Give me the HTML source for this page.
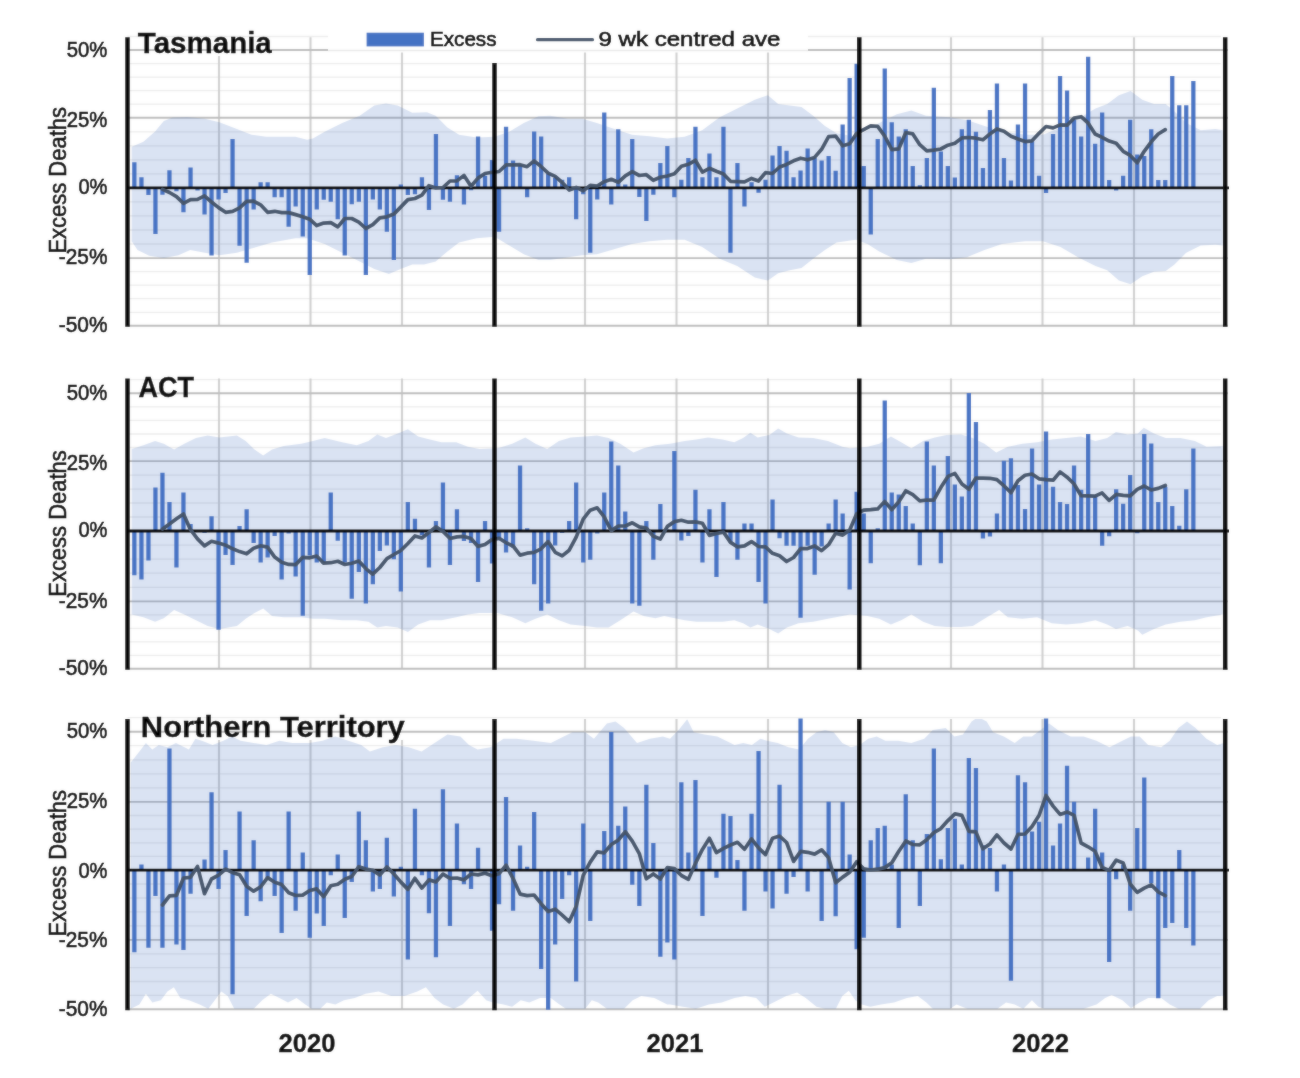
<!DOCTYPE html>
<html lang="en"><head><meta charset="utf-8"><title>Excess deaths by state</title>
<style>html,body{margin:0;padding:0;background:#fff}svg{display:block}</style></head>
<body>
<svg width="1300" height="1078" viewBox="0 0 1300 1078" font-family='"Liberation Sans", sans-serif'>
<rect width="1300" height="1078" fill="#fff"/>
<defs><filter id="soft" x="0" y="0" width="1300" height="1078" filterUnits="userSpaceOnUse"><feGaussianBlur stdDeviation="1"/></filter></defs>
<g id="content">
<rect width="1300" height="1078" fill="#fff"/>
<g id="chart1">
<clipPath id="cp0"><rect x="127.5" y="37.2" width="1097.5" height="288.6"/></clipPath>
<line x1="127.5" x2="1221.0" y1="312.3" y2="312.3" stroke="#ededed" stroke-width="1.3"/>
<line x1="127.5" x2="1221.0" y1="298.7" y2="298.7" stroke="#ededed" stroke-width="1.3"/>
<line x1="127.5" x2="1221.0" y1="285.2" y2="285.2" stroke="#ededed" stroke-width="1.3"/>
<line x1="127.5" x2="1221.0" y1="271.6" y2="271.6" stroke="#ededed" stroke-width="1.3"/>
<line x1="127.5" x2="1221.0" y1="244.0" y2="244.0" stroke="#ededed" stroke-width="1.3"/>
<line x1="127.5" x2="1221.0" y1="230.0" y2="230.0" stroke="#ededed" stroke-width="1.3"/>
<line x1="127.5" x2="1221.0" y1="215.9" y2="215.9" stroke="#ededed" stroke-width="1.3"/>
<line x1="127.5" x2="1221.0" y1="201.9" y2="201.9" stroke="#ededed" stroke-width="1.3"/>
<line x1="127.5" x2="1221.0" y1="173.8" y2="173.8" stroke="#ededed" stroke-width="1.3"/>
<line x1="127.5" x2="1221.0" y1="159.8" y2="159.8" stroke="#ededed" stroke-width="1.3"/>
<line x1="127.5" x2="1221.0" y1="145.8" y2="145.8" stroke="#ededed" stroke-width="1.3"/>
<line x1="127.5" x2="1221.0" y1="131.8" y2="131.8" stroke="#ededed" stroke-width="1.3"/>
<line x1="127.5" x2="1221.0" y1="104.2" y2="104.2" stroke="#ededed" stroke-width="1.3"/>
<line x1="127.5" x2="1221.0" y1="90.7" y2="90.7" stroke="#ededed" stroke-width="1.3"/>
<line x1="127.5" x2="1221.0" y1="77.2" y2="77.2" stroke="#ededed" stroke-width="1.3"/>
<line x1="127.5" x2="1221.0" y1="63.6" y2="63.6" stroke="#ededed" stroke-width="1.3"/>
<line x1="127.5" x2="1221.0" y1="36.5" y2="36.5" stroke="#ededed" stroke-width="1.3"/>
<line x1="219.0" x2="219.0" y1="56.0" y2="325.8" stroke="#d0d0d0" stroke-width="2.1"/>
<line x1="310.5" x2="310.5" y1="37.2" y2="325.8" stroke="#d0d0d0" stroke-width="2.1"/>
<line x1="402.0" x2="402.0" y1="37.2" y2="325.8" stroke="#d0d0d0" stroke-width="2.1"/>
<line x1="585.0" x2="585.0" y1="37.2" y2="325.8" stroke="#d0d0d0" stroke-width="2.1"/>
<line x1="676.5" x2="676.5" y1="37.2" y2="325.8" stroke="#d0d0d0" stroke-width="2.1"/>
<line x1="768.0" x2="768.0" y1="37.2" y2="325.8" stroke="#d0d0d0" stroke-width="2.1"/>
<line x1="951.0" x2="951.0" y1="37.2" y2="325.8" stroke="#d0d0d0" stroke-width="2.1"/>
<line x1="1042.5" x2="1042.5" y1="37.2" y2="325.8" stroke="#d0d0d0" stroke-width="2.1"/>
<line x1="1134.0" x2="1134.0" y1="37.2" y2="325.8" stroke="#d0d0d0" stroke-width="2.1"/>
<line x1="127.5" x2="1228.0" y1="325.8" y2="325.8" stroke="#bdbdbd" stroke-width="1.9"/>
<line x1="127.5" x2="1228.0" y1="258.1" y2="258.1" stroke="#bdbdbd" stroke-width="1.9"/>
<line x1="127.5" x2="1228.0" y1="117.8" y2="117.8" stroke="#bdbdbd" stroke-width="1.9"/>
<line x1="127.5" x2="1228.0" y1="50.0" y2="50.0" stroke="#bdbdbd" stroke-width="1.9"/>
<polygon clip-path="url(#cp0)" fill="#4472c4" fill-opacity="0.2" points="131.7,146.7 143.4,141.7 155.1,131.5 163.8,121.0 172.6,117.5 187.2,116.9 204.8,118.7 219.4,122.2 236.9,128.9 251.5,134.7 266.2,136.8 295.4,136.8 307.1,139.7 312.9,138.5 324.6,131.8 342.2,123.1 359.7,115.8 374.3,105.6 386.0,103.5 397.7,105.6 412.3,112.8 426.9,112.3 435.7,115.8 447.4,127.4 459.1,134.7 476.6,137.6 494.6,136.8 509.2,131.8 523.8,123.1 538.5,116.3 550.2,115.8 567.7,118.7 582.3,118.7 596.9,123.1 611.5,128.0 632.0,134.7 649.5,136.2 667.1,138.5 684.6,136.8 702.2,130.3 719.7,117.2 737.2,108.5 754.8,99.7 767.9,95.3 778.2,104.1 789.9,105.6 801.5,107.0 813.2,115.8 824.9,126.0 836.6,133.3 855.8,136.8 867.5,130.3 879.2,123.1 896.8,114.3 911.4,110.5 926.0,115.8 949.4,117.2 966.9,120.1 984.5,126.0 1002.0,131.8 1025.4,134.7 1042.9,134.7 1060.5,127.4 1078.0,118.7 1095.5,108.5 1107.2,104.1 1118.9,95.3 1130.6,91.0 1142.3,99.7 1154.0,104.1 1165.7,104.1 1174.5,111.4 1186.2,123.1 1200.8,130.3 1215.4,128.9 1222.7,130.3 1222.7,245.6 1215.4,244.7 1200.8,245.6 1186.2,252.8 1174.5,264.5 1165.7,270.9 1154.0,271.8 1142.3,276.2 1130.6,284.3 1118.9,280.6 1107.2,270.3 1095.5,266.0 1078.0,257.2 1060.5,247.0 1042.9,241.2 1025.4,241.2 1002.0,244.1 984.5,249.9 966.9,257.2 949.4,259.3 926.0,258.7 911.4,263.1 896.8,260.1 879.2,251.4 867.5,244.1 855.8,239.7 836.6,242.6 824.9,249.9 813.2,258.7 801.5,268.0 789.9,270.3 778.2,273.3 767.9,280.6 754.8,277.6 737.2,266.0 719.7,258.7 702.2,247.0 684.6,239.7 667.1,239.7 649.5,241.2 632.0,244.1 611.5,249.9 596.9,254.3 582.3,255.2 567.7,257.2 550.2,260.1 538.5,260.1 523.8,254.3 509.2,245.6 494.6,236.8 476.6,238.3 459.1,242.6 447.4,251.4 435.7,261.6 424.0,264.5 412.3,264.5 400.6,268.9 388.9,274.1 374.3,268.9 359.7,261.6 342.2,252.8 324.6,244.1 307.1,238.3 295.4,238.3 272.0,242.6 251.5,248.5 236.9,252.8 219.4,255.2 204.8,252.8 190.2,249.9 178.5,255.2 163.8,258.1 149.2,255.8 137.5,249.9 131.7,241.2"/>
<path fill="#4472c4" d="M132.2 162.3h4.3V187.8h-4.3zM139.3 177.2h4.3V187.8h-4.3zM146.3 187.8h4.3V195.1h-4.3zM153.3 187.8h4.3V234.0h-4.3zM160.3 187.8h4.3V194.8h-4.3zM167.3 170.2h4.3V187.8h-4.3zM174.3 187.8h4.3V191.2h-4.3zM181.3 187.8h4.3V212.2h-4.3zM188.4 167.6h4.3V187.8h-4.3zM195.4 187.8h4.3V190.6h-4.3zM202.4 187.8h4.3V214.4h-4.3zM209.4 187.8h4.3V255.6h-4.3zM216.4 187.8h4.3V199.6h-4.3zM223.4 187.8h4.3V193.1h-4.3zM230.4 139.1h4.3V187.8h-4.3zM237.4 187.8h4.3V245.8h-4.3zM244.5 187.8h4.3V262.8h-4.3zM251.5 187.8h4.3V209.6h-4.3zM258.5 182.2h4.3V187.8h-4.3zM265.5 182.2h4.3V187.8h-4.3zM272.5 187.8h4.3V197.3h-4.3zM279.5 187.8h4.3V197.3h-4.3zM286.5 187.8h4.3V226.7h-4.3zM293.5 187.8h4.3V206.6h-4.3zM300.6 187.8h4.3V236.5h-4.3zM307.6 187.8h4.3V274.9h-4.3zM314.6 187.8h4.3V209.6h-4.3zM321.6 187.8h4.3V199.8h-4.3zM328.6 187.8h4.3V201.8h-4.3zM335.6 187.8h4.3V219.2h-4.3zM342.6 187.8h4.3V255.6h-4.3zM349.6 187.8h4.3V204.3h-4.3zM356.7 187.8h4.3V201.8h-4.3zM363.7 187.8h4.3V274.9h-4.3zM370.7 187.8h4.3V199.6h-4.3zM377.7 187.8h4.3V209.6h-4.3zM384.7 187.8h4.3V231.8h-4.3zM391.7 187.8h4.3V260.0h-4.3zM398.7 184.4h4.3V187.8h-4.3zM405.7 187.8h4.3V195.1h-4.3zM412.8 187.8h4.3V194.2h-4.3zM419.8 177.2h4.3V187.8h-4.3zM426.8 187.8h4.3V209.9h-4.3zM433.8 134.0h4.3V187.8h-4.3zM440.8 187.8h4.3V199.8h-4.3zM447.8 187.8h4.3V201.8h-4.3zM454.8 175.2h4.3V187.8h-4.3zM461.8 187.8h4.3V204.6h-4.3zM468.9 187.8h4.3V190.3h-4.3zM475.9 136.6h4.3V187.8h-4.3zM482.9 175.8h4.3V187.8h-4.3zM489.9 160.1h4.3V187.8h-4.3zM496.9 187.8h4.3V231.8h-4.3zM503.9 126.8h4.3V187.8h-4.3zM510.9 160.4h4.3V187.8h-4.3zM517.9 164.3h4.3V187.8h-4.3zM525.0 187.8h4.3V197.3h-4.3zM532.0 131.5h4.3V187.8h-4.3zM539.0 136.6h4.3V187.8h-4.3zM546.0 174.1h4.3V187.8h-4.3zM553.0 177.7h4.3V187.8h-4.3zM560.0 179.7h4.3V187.8h-4.3zM567.0 177.2h4.3V187.8h-4.3zM574.0 187.8h4.3V219.2h-4.3zM581.1 187.8h4.3V194.2h-4.3zM588.1 187.8h4.3V252.8h-4.3zM595.1 187.8h4.3V199.6h-4.3zM602.1 112.5h4.3V187.8h-4.3zM609.1 187.8h4.3V204.6h-4.3zM616.1 129.3h4.3V187.8h-4.3zM623.1 184.4h4.3V187.8h-4.3zM630.1 139.1h4.3V187.8h-4.3zM637.2 187.8h4.3V197.0h-4.3zM644.2 187.8h4.3V221.1h-4.3zM651.2 187.8h4.3V194.8h-4.3zM658.2 162.9h4.3V187.8h-4.3zM665.2 146.1h4.3V187.8h-4.3zM672.2 187.8h4.3V197.3h-4.3zM679.2 179.7h4.3V187.8h-4.3zM686.2 158.1h4.3V187.8h-4.3zM693.3 126.8h4.3V187.8h-4.3zM700.3 177.2h4.3V187.8h-4.3zM707.3 153.4h4.3V187.8h-4.3zM714.3 177.2h4.3V187.8h-4.3zM721.3 126.8h4.3V187.8h-4.3zM728.3 187.8h4.3V252.8h-4.3zM735.3 162.9h4.3V187.8h-4.3zM742.3 187.8h4.3V206.6h-4.3zM749.4 182.2h4.3V187.8h-4.3zM756.4 187.8h4.3V192.8h-4.3zM763.4 179.7h4.3V187.8h-4.3zM770.4 155.6h4.3V187.8h-4.3zM777.4 146.1h4.3V187.8h-4.3zM784.4 150.8h4.3V187.8h-4.3zM791.4 177.2h4.3V187.8h-4.3zM798.4 170.4h4.3V187.8h-4.3zM805.5 148.6h4.3V187.8h-4.3zM812.5 158.1h4.3V187.8h-4.3zM819.5 160.6h4.3V187.8h-4.3zM826.5 155.9h4.3V187.8h-4.3zM833.5 170.7h4.3V187.8h-4.3zM840.5 124.5h4.3V187.8h-4.3zM847.5 78.0h4.3V187.8h-4.3zM854.5 63.8h4.3V187.8h-4.3zM861.6 166.0h4.3V187.8h-4.3zM868.6 187.8h4.3V234.6h-4.3zM875.6 139.1h4.3V187.8h-4.3zM882.6 68.5h4.3V187.8h-4.3zM889.6 122.3h4.3V187.8h-4.3zM896.6 136.6h4.3V187.8h-4.3zM903.6 129.3h4.3V187.8h-4.3zM910.6 166.0h4.3V187.8h-4.3zM917.7 185.3h4.3V187.8h-4.3zM924.7 158.1h4.3V187.8h-4.3zM931.7 87.8h4.3V187.8h-4.3zM938.7 151.4h4.3V187.8h-4.3zM945.7 166.0h4.3V187.8h-4.3zM952.7 177.4h4.3V187.8h-4.3zM959.7 129.3h4.3V187.8h-4.3zM966.7 119.8h4.3V187.8h-4.3zM973.8 131.8h4.3V187.8h-4.3zM980.8 167.9h4.3V187.8h-4.3zM987.8 110.0h4.3V187.8h-4.3zM994.8 83.6h4.3V187.8h-4.3zM1001.8 158.1h4.3V187.8h-4.3zM1008.8 180.5h4.3V187.8h-4.3zM1015.8 124.5h4.3V187.8h-4.3zM1022.9 83.6h4.3V187.8h-4.3zM1029.9 141.3h4.3V187.8h-4.3zM1036.9 175.8h4.3V187.8h-4.3zM1043.9 187.8h4.3V193.1h-4.3zM1050.9 134.0h4.3V187.8h-4.3zM1057.9 76.1h4.3V187.8h-4.3zM1064.9 90.6h4.3V187.8h-4.3zM1071.9 119.8h4.3V187.8h-4.3zM1079.0 136.6h4.3V187.8h-4.3zM1086.0 56.8h4.3V187.8h-4.3zM1093.0 143.8h4.3V187.8h-4.3zM1100.0 112.5h4.3V187.8h-4.3zM1107.0 180.0h4.3V187.8h-4.3zM1114.0 187.8h4.3V190.6h-4.3zM1121.0 175.8h4.3V187.8h-4.3zM1128.0 119.8h4.3V187.8h-4.3zM1135.1 154.5h4.3V187.8h-4.3zM1142.1 155.9h4.3V187.8h-4.3zM1149.1 129.3h4.3V187.8h-4.3zM1156.1 180.0h4.3V187.8h-4.3zM1163.1 180.0h4.3V187.8h-4.3zM1170.1 76.1h4.3V187.8h-4.3zM1177.1 105.2h4.3V187.8h-4.3zM1184.1 105.2h4.3V187.8h-4.3zM1191.2 81.1h4.3V187.8h-4.3z"/>
<line x1="127.5" x2="1229.0" y1="187.8" y2="187.8" stroke="#000" stroke-width="2.8"/>
<polyline fill="none" stroke="#44546a" stroke-width="3.7" stroke-linejoin="round" stroke-linecap="round" points="162.5,189.4 169.5,192.5 176.5,196.7 183.5,203.4 190.5,199.6 197.5,199.4 204.5,195.9 211.5,202.0 218.6,207.6 225.6,212.3 232.6,211.4 239.6,207.8 246.6,201.3 253.6,201.1 260.6,204.8 267.6,212.3 274.7,211.3 281.7,212.6 288.7,212.6 295.7,214.6 302.7,216.7 309.7,219.2 316.7,225.6 323.7,223.1 330.8,222.6 337.8,226.9 344.8,218.5 351.8,218.5 358.8,222.1 365.8,228.5 372.8,224.7 379.8,217.9 386.9,216.8 393.9,214.1 400.9,206.9 407.9,199.6 414.9,198.5 421.9,195.2 428.9,185.7 435.9,188.0 443.0,187.5 450.0,181.0 457.0,180.9 464.0,175.4 471.0,186.2 478.0,178.1 485.0,173.5 492.0,172.3 499.1,171.5 506.1,164.9 513.1,164.9 520.1,164.7 527.1,166.7 534.1,160.9 541.1,166.5 548.1,173.1 555.2,176.4 562.2,182.5 569.2,190.1 576.2,187.4 583.2,190.8 590.2,185.4 597.2,186.0 604.2,181.7 611.3,179.3 618.3,182.3 625.3,175.8 632.3,171.7 639.3,175.5 646.3,174.7 653.3,180.3 660.3,177.3 667.4,176.0 674.4,173.8 681.4,166.2 688.4,164.3 695.4,160.3 702.4,172.1 709.4,168.3 716.4,171.3 723.5,174.0 730.5,181.3 737.5,181.6 744.5,181.8 751.5,178.4 758.5,181.0 765.5,172.6 772.5,173.5 779.6,167.0 786.6,164.4 793.6,160.8 800.6,158.2 807.6,159.8 814.6,157.4 821.6,149.3 828.6,136.7 835.7,136.2 842.7,145.8 849.7,143.7 856.7,133.4 863.7,129.7 870.7,125.9 877.7,126.4 884.7,136.2 891.8,149.7 898.8,148.8 905.8,132.5 912.8,133.9 919.8,144.7 926.8,150.9 933.8,150.1 940.8,149.0 947.9,145.2 954.9,143.3 961.9,137.9 968.9,137.5 975.9,138.2 982.9,139.8 989.9,133.9 996.9,128.9 1004.0,131.3 1011.0,136.2 1018.0,139.0 1025.0,141.6 1032.0,140.8 1039.0,133.3 1046.0,126.5 1053.1,127.9 1060.1,124.9 1067.1,125.2 1074.1,118.1 1081.1,116.7 1088.1,123.0 1095.1,134.0 1102.1,137.3 1109.2,141.1 1116.2,143.3 1123.2,151.3 1130.2,155.4 1137.2,162.8 1144.2,151.3 1151.2,141.8 1158.2,134.0 1165.3,129.7"/>
<rect x="328" y="20" width="480" height="32.5" fill="#fff"/>
<line x1="328" x2="808" y1="50.4" y2="50.4" stroke="#e9e9e9" stroke-width="1.5"/>
<rect x="366.6" y="32.7" width="57.3" height="13.7" fill="#4472c4"/>
<text x="430" y="46.3" font-size="21" stroke="#000" stroke-width="0.6" textLength="66.5" lengthAdjust="spacingAndGlyphs">Excess</text>
<line x1="537.5" x2="592.5" y1="39.7" y2="39.7" stroke="#44546a" stroke-width="3.2" stroke-linecap="round"/>
<text x="598.5" y="46.3" font-size="21" stroke="#000" stroke-width="0.6" textLength="182" lengthAdjust="spacingAndGlyphs">9 wk centred ave</text>
<line x1="127.5" x2="127.5" y1="37.2" y2="326.8" stroke="#000" stroke-width="4.5"/>
<line x1="494.5" x2="494.5" y1="63.0" y2="326.8" stroke="#000" stroke-width="4.5"/>
<line x1="859.3" x2="859.3" y1="37.2" y2="326.8" stroke="#000" stroke-width="4.5"/>
<line x1="1225.2" x2="1225.2" y1="37.2" y2="326.8" stroke="#000" stroke-width="4.5"/>
<text x="66.8" y="56.6" font-size="22" stroke="#000" stroke-width="0.6" textLength="40.6" lengthAdjust="spacingAndGlyphs">50%</text>
<text x="66.8" y="126.7" font-size="22" stroke="#000" stroke-width="0.6" textLength="40.6" lengthAdjust="spacingAndGlyphs">25%</text>
<text x="78.4" y="193.9" font-size="22" stroke="#000" stroke-width="0.6" textLength="29.0" lengthAdjust="spacingAndGlyphs">0%</text>
<text x="58.8" y="264.3" font-size="22" stroke="#000" stroke-width="0.6" textLength="48.6" lengthAdjust="spacingAndGlyphs">-25%</text>
<text x="58.8" y="332.1" font-size="22" stroke="#000" stroke-width="0.6" textLength="48.6" lengthAdjust="spacingAndGlyphs">-50%</text>
<text transform="translate(66.0 180.3) rotate(-90)" font-size="23" stroke="#000" stroke-width="0.6" text-anchor="middle" textLength="146.5" lengthAdjust="spacingAndGlyphs">Excess Deaths</text>
<text x="137.8" y="53.3" font-size="29" font-weight="bold" stroke="#000" stroke-width="0.35" textLength="134" lengthAdjust="spacingAndGlyphs">Tasmania</text>
</g>
<g id="chart2">
<clipPath id="cp1"><rect x="127.5" y="378.4" width="1097.5" height="290.4"/></clipPath>
<line x1="127.5" x2="1221.0" y1="655.3" y2="655.3" stroke="#ededed" stroke-width="1.3"/>
<line x1="127.5" x2="1221.0" y1="641.8" y2="641.8" stroke="#ededed" stroke-width="1.3"/>
<line x1="127.5" x2="1221.0" y1="628.4" y2="628.4" stroke="#ededed" stroke-width="1.3"/>
<line x1="127.5" x2="1221.0" y1="614.9" y2="614.9" stroke="#ededed" stroke-width="1.3"/>
<line x1="127.5" x2="1221.0" y1="587.3" y2="587.3" stroke="#ededed" stroke-width="1.3"/>
<line x1="127.5" x2="1221.0" y1="573.2" y2="573.2" stroke="#ededed" stroke-width="1.3"/>
<line x1="127.5" x2="1221.0" y1="559.2" y2="559.2" stroke="#ededed" stroke-width="1.3"/>
<line x1="127.5" x2="1221.0" y1="545.1" y2="545.1" stroke="#ededed" stroke-width="1.3"/>
<line x1="127.5" x2="1221.0" y1="517.0" y2="517.0" stroke="#ededed" stroke-width="1.3"/>
<line x1="127.5" x2="1221.0" y1="503.0" y2="503.0" stroke="#ededed" stroke-width="1.3"/>
<line x1="127.5" x2="1221.0" y1="489.1" y2="489.1" stroke="#ededed" stroke-width="1.3"/>
<line x1="127.5" x2="1221.0" y1="475.1" y2="475.1" stroke="#ededed" stroke-width="1.3"/>
<line x1="127.5" x2="1221.0" y1="447.5" y2="447.5" stroke="#ededed" stroke-width="1.3"/>
<line x1="127.5" x2="1221.0" y1="434.0" y2="434.0" stroke="#ededed" stroke-width="1.3"/>
<line x1="127.5" x2="1221.0" y1="420.4" y2="420.4" stroke="#ededed" stroke-width="1.3"/>
<line x1="127.5" x2="1221.0" y1="406.9" y2="406.9" stroke="#ededed" stroke-width="1.3"/>
<line x1="127.5" x2="1221.0" y1="379.7" y2="379.7" stroke="#ededed" stroke-width="1.3"/>
<line x1="219.0" x2="219.0" y1="378.4" y2="668.8" stroke="#d0d0d0" stroke-width="2.1"/>
<line x1="310.5" x2="310.5" y1="378.4" y2="668.8" stroke="#d0d0d0" stroke-width="2.1"/>
<line x1="402.0" x2="402.0" y1="378.4" y2="668.8" stroke="#d0d0d0" stroke-width="2.1"/>
<line x1="585.0" x2="585.0" y1="378.4" y2="668.8" stroke="#d0d0d0" stroke-width="2.1"/>
<line x1="676.5" x2="676.5" y1="378.4" y2="668.8" stroke="#d0d0d0" stroke-width="2.1"/>
<line x1="768.0" x2="768.0" y1="378.4" y2="668.8" stroke="#d0d0d0" stroke-width="2.1"/>
<line x1="951.0" x2="951.0" y1="378.4" y2="668.8" stroke="#d0d0d0" stroke-width="2.1"/>
<line x1="1042.5" x2="1042.5" y1="378.4" y2="668.8" stroke="#d0d0d0" stroke-width="2.1"/>
<line x1="1134.0" x2="1134.0" y1="378.4" y2="668.8" stroke="#d0d0d0" stroke-width="2.1"/>
<line x1="127.5" x2="1228.0" y1="668.8" y2="668.8" stroke="#bdbdbd" stroke-width="1.9"/>
<line x1="127.5" x2="1228.0" y1="601.4" y2="601.4" stroke="#bdbdbd" stroke-width="1.9"/>
<line x1="127.5" x2="1228.0" y1="461.1" y2="461.1" stroke="#bdbdbd" stroke-width="1.9"/>
<line x1="127.5" x2="1228.0" y1="393.3" y2="393.3" stroke="#bdbdbd" stroke-width="1.9"/>
<polygon clip-path="url(#cp1)" fill="#4472c4" fill-opacity="0.2" points="131.7,449.0 143.4,445.2 155.1,440.9 163.8,443.8 174.1,449.6 184.3,443.8 196.0,438.0 207.7,435.6 219.4,437.4 236.9,435.6 245.7,440.9 254.5,449.6 263.2,455.5 272.0,449.6 283.7,446.1 301.2,443.8 312.9,440.9 324.6,438.0 342.2,442.3 356.8,445.2 368.5,440.9 377.2,434.5 386.0,438.0 397.7,433.6 407.9,429.2 418.2,436.5 429.9,439.4 441.5,442.3 456.2,442.3 467.9,446.7 479.5,449.0 497.5,448.2 512.2,443.8 525.3,437.4 535.5,443.8 547.2,449.0 558.9,440.9 570.6,437.4 585.2,436.5 596.9,435.6 608.6,438.0 620.3,443.8 633.5,452.5 643.7,448.2 655.4,445.2 670.0,443.8 684.6,440.9 696.3,439.4 708.0,437.4 722.6,439.4 734.3,442.3 743.1,438.0 750.4,432.7 757.7,437.4 769.4,435.0 778.2,428.6 786.9,433.6 798.6,437.4 813.2,438.0 827.9,440.9 842.5,446.7 850.0,448.2 867.5,446.7 879.2,443.8 890.9,436.5 901.2,442.3 911.4,448.2 923.1,440.9 934.8,437.4 946.5,435.0 961.1,434.5 972.8,438.0 984.5,443.8 996.2,452.5 1007.8,446.7 1022.5,443.8 1037.1,442.3 1051.7,439.4 1066.3,438.0 1080.9,436.5 1095.5,440.9 1107.2,438.0 1116.0,432.1 1127.7,434.5 1137.9,433.6 1143.8,427.8 1154.0,433.6 1165.7,438.0 1180.3,438.0 1194.9,440.9 1206.6,446.7 1222.7,446.1 1222.7,614.4 1206.6,617.3 1194.9,620.2 1180.3,621.7 1165.7,624.6 1154.0,629.0 1142.3,634.8 1137.9,630.5 1127.7,626.1 1116.0,629.0 1107.2,624.6 1095.5,620.2 1080.9,623.2 1066.3,624.6 1051.7,623.2 1037.1,617.3 1022.5,618.8 1007.8,617.3 999.1,610.0 984.5,618.8 972.8,626.1 961.1,627.0 946.5,627.0 934.8,626.1 923.1,621.7 911.4,614.4 901.2,620.2 890.9,624.6 879.2,618.8 867.5,615.9 850.0,614.4 842.5,615.9 827.9,618.8 813.2,621.7 798.6,623.2 786.9,627.5 778.2,633.4 769.4,629.0 757.7,624.6 750.4,627.5 743.1,623.2 734.3,620.2 722.6,621.7 708.0,621.7 696.3,621.7 684.6,620.2 670.0,617.3 664.2,615.9 655.4,618.2 643.7,615.9 633.5,611.5 620.3,620.2 608.6,627.5 596.9,627.5 585.2,626.1 570.6,624.6 558.9,620.2 547.2,614.4 535.5,618.8 525.3,623.2 512.2,617.3 497.5,613.0 479.5,613.0 467.9,614.4 456.2,617.3 441.5,620.2 429.9,620.2 418.2,624.6 407.9,631.9 397.7,627.5 386.0,626.1 377.2,627.5 368.5,621.7 356.8,620.2 342.2,620.2 324.6,618.8 312.9,618.8 301.2,617.3 283.7,617.3 272.0,615.9 263.2,608.6 254.5,613.0 245.7,618.8 236.9,626.1 219.4,629.0 207.7,626.1 196.0,620.2 184.3,614.4 174.1,610.0 163.8,618.2 155.1,621.7 143.4,617.3 131.7,614.4"/>
<path fill="#4472c4" d="M132.2 531.0h4.3V575.2h-4.3zM139.3 531.0h4.3V579.4h-4.3zM146.3 531.0h4.3V560.4h-4.3zM153.3 487.6h4.3V531.0h-4.3zM160.3 472.8h4.3V531.0h-4.3zM167.3 501.9h4.3V531.0h-4.3zM174.3 531.0h4.3V567.4h-4.3zM181.3 492.4h4.3V531.0h-4.3zM188.4 524.0h4.3V531.0h-4.3zM195.4 530.2h4.3V531.0h-4.3zM202.4 531.0h4.3V533.0h-4.3zM209.4 516.2h4.3V531.0h-4.3zM216.4 531.0h4.3V629.8h-4.3zM223.4 531.0h4.3V555.1h-4.3zM230.4 531.0h4.3V564.9h-4.3zM237.4 526.0h4.3V531.0h-4.3zM244.5 509.2h4.3V531.0h-4.3zM251.5 531.0h4.3V543.0h-4.3zM258.5 531.0h4.3V562.4h-4.3zM265.5 531.0h4.3V557.6h-4.3zM272.5 531.0h4.3V536.0h-4.3zM279.5 531.0h4.3V579.4h-4.3zM286.5 531.0h4.3V533.5h-4.3zM293.5 531.0h4.3V576.6h-4.3zM300.6 531.0h4.3V615.8h-4.3zM307.6 531.0h4.3V555.6h-4.3zM314.6 531.0h4.3V562.4h-4.3zM321.6 531.0h4.3V564.0h-4.3zM328.6 492.4h4.3V531.0h-4.3zM335.6 531.0h4.3V540.8h-4.3zM342.6 531.0h4.3V562.4h-4.3zM349.6 531.0h4.3V598.8h-4.3zM356.7 531.0h4.3V571.9h-4.3zM363.7 531.0h4.3V603.5h-4.3zM370.7 531.0h4.3V584.2h-4.3zM377.7 531.0h4.3V550.9h-4.3zM384.7 531.0h4.3V545.6h-4.3zM391.7 531.0h4.3V559.3h-4.3zM398.7 531.0h4.3V591.5h-4.3zM405.7 501.9h4.3V531.0h-4.3zM412.8 518.7h4.3V531.0h-4.3zM419.8 531.0h4.3V535.2h-4.3zM426.8 531.0h4.3V567.4h-4.3zM433.8 520.9h4.3V531.0h-4.3zM440.8 482.6h4.3V531.0h-4.3zM447.8 531.0h4.3V564.9h-4.3zM454.8 509.2h4.3V531.0h-4.3zM461.8 531.0h4.3V541.1h-4.3zM468.9 531.0h4.3V543.0h-4.3zM475.9 531.0h4.3V582.0h-4.3zM482.9 520.9h4.3V531.0h-4.3zM489.9 531.0h4.3V563.5h-4.3zM496.9 531.0h4.3V540.2h-4.3zM503.9 531.0h4.3V552.6h-4.3zM510.9 531.0h4.3V547.8h-4.3zM517.9 465.5h4.3V531.0h-4.3zM525.0 528.2h4.3V531.0h-4.3zM532.0 531.0h4.3V584.2h-4.3zM539.0 531.0h4.3V610.8h-4.3zM546.0 531.0h4.3V603.5h-4.3zM553.0 531.0h4.3V545.6h-4.3zM560.0 531.0h4.3V533.0h-4.3zM567.0 520.9h4.3V531.0h-4.3zM574.0 482.6h4.3V531.0h-4.3zM581.1 531.0h4.3V562.4h-4.3zM588.1 531.0h4.3V559.8h-4.3zM595.1 531.0h4.3V533.5h-4.3zM602.1 492.4h4.3V531.0h-4.3zM609.1 441.4h4.3V531.0h-4.3zM616.1 465.5h4.3V531.0h-4.3zM623.1 511.4h4.3V531.0h-4.3zM630.1 531.0h4.3V603.5h-4.3zM637.2 531.0h4.3V605.8h-4.3zM644.2 520.9h4.3V531.0h-4.3zM651.2 531.0h4.3V559.8h-4.3zM658.2 504.1h4.3V531.0h-4.3zM665.2 529.6h4.3V531.0h-4.3zM672.2 450.9h4.3V531.0h-4.3zM679.2 531.0h4.3V540.5h-4.3zM686.2 531.0h4.3V536.0h-4.3zM693.3 489.8h4.3V531.0h-4.3zM700.3 531.0h4.3V562.4h-4.3zM707.3 509.2h4.3V531.0h-4.3zM714.3 531.0h4.3V576.9h-4.3zM721.3 501.9h4.3V531.0h-4.3zM728.3 531.0h4.3V542.2h-4.3zM735.3 531.0h4.3V559.8h-4.3zM742.3 523.4h4.3V531.0h-4.3zM749.4 523.4h4.3V531.0h-4.3zM756.4 531.0h4.3V582.0h-4.3zM763.4 531.0h4.3V603.5h-4.3zM770.4 499.6h4.3V531.0h-4.3zM777.4 531.0h4.3V538.3h-4.3zM784.4 531.0h4.3V545.8h-4.3zM791.4 531.0h4.3V545.8h-4.3zM798.4 531.0h4.3V617.8h-4.3zM805.5 531.0h4.3V545.8h-4.3zM812.5 531.0h4.3V574.7h-4.3zM819.5 531.0h4.3V546.4h-4.3zM826.5 523.4h4.3V531.0h-4.3zM833.5 499.4h4.3V531.0h-4.3zM840.5 513.6h4.3V531.0h-4.3zM847.5 531.0h4.3V589.5h-4.3zM854.5 491.8h4.3V531.0h-4.3zM861.6 513.6h4.3V531.0h-4.3zM868.6 531.0h4.3V563.2h-4.3zM875.6 528.2h4.3V531.0h-4.3zM882.6 400.5h4.3V531.0h-4.3zM889.6 492.4h4.3V531.0h-4.3zM896.6 494.6h4.3V531.0h-4.3zM903.6 506.1h4.3V531.0h-4.3zM910.6 523.4h4.3V531.0h-4.3zM917.7 531.0h4.3V565.2h-4.3zM924.7 441.4h4.3V531.0h-4.3zM931.7 465.5h4.3V531.0h-4.3zM938.7 531.0h4.3V563.2h-4.3zM945.7 456.0h4.3V531.0h-4.3zM952.7 484.5h4.3V531.0h-4.3zM959.7 496.6h4.3V531.0h-4.3zM966.7 393.0h4.3V531.0h-4.3zM973.8 422.1h4.3V531.0h-4.3zM980.8 531.0h4.3V538.6h-4.3zM987.8 531.0h4.3V536.6h-4.3zM994.8 513.6h4.3V531.0h-4.3zM1001.8 460.7h4.3V531.0h-4.3zM1008.8 458.2h4.3V531.0h-4.3zM1015.8 485.1h4.3V531.0h-4.3zM1022.9 508.9h4.3V531.0h-4.3zM1029.9 448.4h4.3V531.0h-4.3zM1036.9 484.5h4.3V531.0h-4.3zM1043.9 431.6h4.3V531.0h-4.3zM1050.9 486.8h4.3V531.0h-4.3zM1057.9 501.9h4.3V531.0h-4.3zM1064.9 504.1h4.3V531.0h-4.3zM1071.9 465.5h4.3V531.0h-4.3zM1079.0 489.8h4.3V531.0h-4.3zM1086.0 434.1h4.3V531.0h-4.3zM1093.0 496.6h4.3V531.0h-4.3zM1100.0 531.0h4.3V545.8h-4.3zM1107.0 531.0h4.3V536.3h-4.3zM1114.0 489.3h4.3V531.0h-4.3zM1121.0 503.8h4.3V531.0h-4.3zM1128.0 475.0h4.3V531.0h-4.3zM1135.1 531.0h4.3V533.2h-4.3zM1142.1 434.1h4.3V531.0h-4.3zM1149.1 443.6h4.3V531.0h-4.3zM1156.1 501.9h4.3V531.0h-4.3zM1163.1 486.8h4.3V531.0h-4.3zM1170.1 506.1h4.3V531.0h-4.3zM1177.1 525.7h4.3V531.0h-4.3zM1184.1 489.3h4.3V531.0h-4.3zM1191.2 448.4h4.3V531.0h-4.3z"/>
<line x1="127.5" x2="1229.0" y1="531.0" y2="531.0" stroke="#000" stroke-width="2.8"/>
<polyline fill="none" stroke="#44546a" stroke-width="3.7" stroke-linejoin="round" stroke-linecap="round" points="162.5,529.0 169.5,524.0 176.5,518.8 183.5,513.9 190.5,529.7 197.5,538.9 204.5,545.9 211.5,541.3 218.6,543.1 225.6,545.2 232.6,548.8 239.6,551.6 246.6,553.8 253.6,548.2 260.6,545.8 267.6,547.1 274.7,557.1 281.7,562.2 288.7,564.4 295.7,564.6 302.7,557.3 309.7,557.8 316.7,556.0 323.7,563.2 330.8,562.7 337.8,561.3 344.8,564.5 351.8,563.2 358.8,561.1 365.8,568.6 372.8,574.2 379.8,567.5 386.9,558.6 393.9,554.5 400.9,550.5 407.9,543.5 414.9,535.9 421.9,538.0 428.9,532.5 435.9,526.9 443.0,531.4 450.0,538.5 457.0,536.9 464.0,536.4 471.0,538.6 478.0,546.4 485.0,544.5 492.0,539.6 499.1,538.2 506.1,542.8 513.1,546.0 520.1,555.1 527.1,553.2 534.1,552.3 541.1,548.8 548.1,541.6 555.2,552.3 562.2,555.9 569.2,550.2 576.2,537.1 583.2,519.1 590.2,510.2 597.2,507.8 604.2,516.9 611.3,530.6 618.3,526.0 625.3,526.0 632.3,522.8 639.3,526.9 646.3,528.0 653.3,536.3 660.3,539.0 667.4,526.4 674.4,521.6 681.4,520.3 688.4,522.2 695.4,521.9 702.4,523.3 709.4,535.4 716.4,533.5 723.5,532.1 730.5,542.4 737.5,546.9 744.5,545.9 751.5,541.6 758.5,546.5 765.5,546.9 772.5,553.3 779.6,555.8 786.6,561.5 793.6,557.5 800.6,548.6 807.6,548.6 814.6,545.9 821.6,550.7 828.6,544.7 835.7,533.1 842.7,535.1 849.7,529.9 856.7,513.7 863.7,510.2 870.7,509.7 877.7,508.9 884.7,501.5 891.8,509.7 898.8,501.7 905.8,490.8 912.8,494.7 919.8,500.9 926.8,500.0 933.8,500.2 940.8,487.6 947.9,476.4 954.9,473.4 961.9,484.0 968.9,489.3 975.9,478.0 982.9,478.2 989.9,478.3 996.9,479.6 1004.0,485.8 1011.0,492.7 1018.0,480.8 1025.0,475.3 1032.0,474.0 1039.0,478.8 1046.0,479.6 1053.1,480.2 1060.1,471.9 1067.1,477.2 1074.1,484.0 1081.1,495.7 1088.1,495.9 1095.1,496.2 1102.1,492.9 1109.2,500.4 1116.2,494.3 1123.2,495.3 1130.2,495.9 1137.2,489.3 1144.2,486.0 1151.2,490.0 1158.2,488.4 1165.3,485.5"/>
<line x1="127.5" x2="127.5" y1="378.4" y2="669.8" stroke="#000" stroke-width="4.5"/>
<line x1="494.5" x2="494.5" y1="378.4" y2="669.8" stroke="#000" stroke-width="4.5"/>
<line x1="859.3" x2="859.3" y1="378.4" y2="669.8" stroke="#000" stroke-width="4.5"/>
<line x1="1225.2" x2="1225.2" y1="378.4" y2="669.8" stroke="#000" stroke-width="4.5"/>
<text x="66.8" y="399.8" font-size="22" stroke="#000" stroke-width="0.6" textLength="40.6" lengthAdjust="spacingAndGlyphs">50%</text>
<text x="66.8" y="469.9" font-size="22" stroke="#000" stroke-width="0.6" textLength="40.6" lengthAdjust="spacingAndGlyphs">25%</text>
<text x="78.4" y="537.1" font-size="22" stroke="#000" stroke-width="0.6" textLength="29.0" lengthAdjust="spacingAndGlyphs">0%</text>
<text x="58.8" y="607.6" font-size="22" stroke="#000" stroke-width="0.6" textLength="48.6" lengthAdjust="spacingAndGlyphs">-25%</text>
<text x="58.8" y="675.4" font-size="22" stroke="#000" stroke-width="0.6" textLength="48.6" lengthAdjust="spacingAndGlyphs">-50%</text>
<text transform="translate(66.0 523.5) rotate(-90)" font-size="23" stroke="#000" stroke-width="0.6" text-anchor="middle" textLength="146.5" lengthAdjust="spacingAndGlyphs">Excess Deaths</text>
<text x="138.6" y="396.6" font-size="29" font-weight="bold" stroke="#000" stroke-width="0.35" textLength="55.5" lengthAdjust="spacingAndGlyphs">ACT</text>
</g>
<g id="chart3">
<clipPath id="cp2"><rect x="127.5" y="719.0" width="1097.5" height="290.2"/></clipPath>
<line x1="127.5" x2="1221.0" y1="995.3" y2="995.3" stroke="#ededed" stroke-width="1.3"/>
<line x1="127.5" x2="1221.0" y1="981.5" y2="981.5" stroke="#ededed" stroke-width="1.3"/>
<line x1="127.5" x2="1221.0" y1="967.6" y2="967.6" stroke="#ededed" stroke-width="1.3"/>
<line x1="127.5" x2="1221.0" y1="953.8" y2="953.8" stroke="#ededed" stroke-width="1.3"/>
<line x1="127.5" x2="1221.0" y1="925.9" y2="925.9" stroke="#ededed" stroke-width="1.3"/>
<line x1="127.5" x2="1221.0" y1="911.9" y2="911.9" stroke="#ededed" stroke-width="1.3"/>
<line x1="127.5" x2="1221.0" y1="898.0" y2="898.0" stroke="#ededed" stroke-width="1.3"/>
<line x1="127.5" x2="1221.0" y1="884.0" y2="884.0" stroke="#ededed" stroke-width="1.3"/>
<line x1="127.5" x2="1221.0" y1="856.4" y2="856.4" stroke="#ededed" stroke-width="1.3"/>
<line x1="127.5" x2="1221.0" y1="842.8" y2="842.8" stroke="#ededed" stroke-width="1.3"/>
<line x1="127.5" x2="1221.0" y1="829.1" y2="829.1" stroke="#ededed" stroke-width="1.3"/>
<line x1="127.5" x2="1221.0" y1="815.5" y2="815.5" stroke="#ededed" stroke-width="1.3"/>
<line x1="127.5" x2="1221.0" y1="787.9" y2="787.9" stroke="#ededed" stroke-width="1.3"/>
<line x1="127.5" x2="1221.0" y1="773.8" y2="773.8" stroke="#ededed" stroke-width="1.3"/>
<line x1="127.5" x2="1221.0" y1="759.8" y2="759.8" stroke="#ededed" stroke-width="1.3"/>
<line x1="127.5" x2="1221.0" y1="745.7" y2="745.7" stroke="#ededed" stroke-width="1.3"/>
<line x1="127.5" x2="1221.0" y1="717.7" y2="717.7" stroke="#ededed" stroke-width="1.3"/>
<line x1="219.0" x2="219.0" y1="740.0" y2="1009.2" stroke="#d0d0d0" stroke-width="2.1"/>
<line x1="310.5" x2="310.5" y1="740.0" y2="1009.2" stroke="#d0d0d0" stroke-width="2.1"/>
<line x1="402.0" x2="402.0" y1="740.0" y2="1009.2" stroke="#d0d0d0" stroke-width="2.1"/>
<line x1="585.0" x2="585.0" y1="719.0" y2="1009.2" stroke="#d0d0d0" stroke-width="2.1"/>
<line x1="676.5" x2="676.5" y1="719.0" y2="1009.2" stroke="#d0d0d0" stroke-width="2.1"/>
<line x1="768.0" x2="768.0" y1="719.0" y2="1009.2" stroke="#d0d0d0" stroke-width="2.1"/>
<line x1="951.0" x2="951.0" y1="719.0" y2="1009.2" stroke="#d0d0d0" stroke-width="2.1"/>
<line x1="1042.5" x2="1042.5" y1="719.0" y2="1009.2" stroke="#d0d0d0" stroke-width="2.1"/>
<line x1="1134.0" x2="1134.0" y1="719.0" y2="1009.2" stroke="#d0d0d0" stroke-width="2.1"/>
<line x1="127.5" x2="1228.0" y1="1009.2" y2="1009.2" stroke="#bdbdbd" stroke-width="1.9"/>
<line x1="127.5" x2="1228.0" y1="939.9" y2="939.9" stroke="#bdbdbd" stroke-width="1.9"/>
<line x1="127.5" x2="1228.0" y1="801.9" y2="801.9" stroke="#bdbdbd" stroke-width="1.9"/>
<line x1="127.5" x2="1228.0" y1="731.7" y2="731.7" stroke="#bdbdbd" stroke-width="1.9"/>
<polygon clip-path="url(#cp2)" fill="#4472c4" fill-opacity="0.2" points="130.8,762.4 139.4,751.6 145.9,743.0 152.3,749.4 158.8,745.1 167.4,747.3 176.0,743.0 188.9,749.4 195.4,738.7 201.9,740.8 212.6,745.1 223.4,740.8 232.0,736.5 240.6,740.8 253.6,743.0 266.5,745.1 279.4,740.8 292.3,743.0 309.6,743.0 322.5,740.8 335.4,736.5 348.3,740.8 361.3,745.1 369.9,751.6 382.8,747.3 395.7,745.1 408.7,747.3 421.6,751.6 434.5,743.0 447.4,734.4 460.4,736.5 469.0,745.1 477.6,749.4 490.5,747.3 503.5,738.7 516.4,738.7 533.6,740.8 550.8,743.0 563.8,736.5 572.4,732.2 585.3,732.2 593.9,738.7 606.9,723.6 615.5,721.4 624.1,727.9 637.0,743.0 649.9,738.7 662.9,736.5 670.0,738.7 678.6,730.1 687.2,719.3 693.7,732.2 704.5,734.4 717.4,736.5 726.0,740.8 734.6,745.1 743.2,743.0 751.9,745.1 760.5,738.7 766.9,740.8 777.7,743.0 788.5,747.3 799.3,749.4 807.9,738.7 816.5,732.2 825.1,730.1 833.7,732.2 842.3,743.0 851.0,747.3 859.6,745.1 868.2,738.7 876.8,736.5 885.4,740.8 898.3,740.8 911.3,743.0 924.2,738.7 932.8,730.1 945.7,727.9 954.4,736.5 963.0,734.4 971.6,721.4 978.1,717.1 986.7,721.4 993.1,732.2 1003.9,736.5 1014.7,743.0 1023.3,736.5 1031.9,736.5 1040.5,730.1 1049.1,723.6 1057.8,730.1 1070.7,736.5 1083.6,736.5 1096.5,740.8 1109.5,747.3 1122.4,740.8 1131.0,736.5 1139.6,736.5 1148.2,745.1 1161.2,747.3 1169.8,740.8 1178.4,727.9 1187.0,721.4 1195.6,727.9 1206.4,738.7 1217.2,745.1 1223.6,743.0 1223.6,995.9 1217.2,995.9 1208.6,1000.2 1199.9,1008.8 1178.4,1008.8 1169.8,1004.5 1161.2,998.1 1148.2,998.1 1139.6,1002.4 1131.0,1008.0 1122.4,1000.2 1111.6,995.0 1105.2,998.1 1096.5,1004.5 1083.6,1008.8 1044.8,1008.8 1038.4,1006.7 1031.9,1000.2 1023.3,1008.8 1014.7,1004.5 1006.1,1002.4 997.4,1008.8 967.3,1008.8 956.5,1004.5 950.1,1008.8 932.8,1008.8 926.4,1002.4 917.7,995.9 907.0,998.1 894.0,1002.4 881.1,1004.5 870.3,1006.7 861.7,1004.5 855.3,1000.2 848.8,990.7 842.3,995.9 835.9,1008.8 825.1,1008.8 816.5,1006.7 805.7,998.1 797.1,992.5 786.3,995.9 773.4,1002.4 764.8,1006.7 756.2,998.1 745.4,995.9 734.6,998.1 721.7,1002.4 708.8,1004.5 695.9,1008.8 682.9,1006.7 670.0,1004.5 667.2,1004.5 654.3,998.1 641.3,995.9 632.7,1000.2 624.1,1008.8 606.9,1008.8 598.2,1002.4 591.8,1000.2 585.3,1008.8 565.9,1008.8 559.5,1004.5 550.8,998.1 540.1,998.1 529.3,1002.4 520.7,1000.2 512.1,1006.7 503.5,1004.5 492.7,1002.4 486.2,1000.2 477.6,990.7 469.0,998.1 462.5,1004.5 453.9,1008.8 443.1,1004.5 434.5,998.1 425.9,987.3 417.3,991.6 404.4,995.9 391.4,995.9 378.5,991.6 365.6,993.8 354.8,998.1 344.0,1000.2 335.4,1004.5 326.8,1002.4 320.3,1008.8 311.7,1008.8 305.3,1004.5 296.6,998.1 288.0,1002.4 279.4,998.1 270.8,993.8 262.2,1000.2 253.6,1008.8 234.2,1008.8 227.7,995.9 221.2,991.6 214.8,1000.2 208.3,1008.8 199.7,1004.5 188.9,1000.2 180.3,998.1 173.9,987.3 167.4,991.6 160.9,1000.2 152.3,1002.4 145.9,993.8 139.4,1004.5 130.8,1008.8"/>
<path fill="#4472c4" d="M132.2 870.1h4.3V952.3h-4.3zM139.3 864.6h4.3V870.1h-4.3zM146.3 870.1h4.3V947.7h-4.3zM153.3 870.1h4.3V896.0h-4.3zM160.3 870.1h4.3V947.7h-4.3zM167.3 748.4h4.3V870.1h-4.3zM174.3 870.1h4.3V944.6h-4.3zM181.3 870.1h4.3V949.9h-4.3zM188.4 870.1h4.3V893.8h-4.3zM195.4 870.1h4.3V870.1h-4.3zM202.4 859.6h4.3V870.1h-4.3zM209.4 792.3h4.3V870.1h-4.3zM216.4 870.1h4.3V889.1h-4.3zM223.4 850.0h4.3V870.1h-4.3zM230.4 870.1h4.3V994.3h-4.3zM237.4 811.6h4.3V870.1h-4.3zM244.5 870.1h4.3V915.9h-4.3zM251.5 840.3h4.3V870.1h-4.3zM258.5 870.1h4.3V901.3h-4.3zM265.5 870.1h4.3V878.4h-4.3zM272.5 870.1h4.3V896.0h-4.3zM279.5 870.1h4.3V933.0h-4.3zM286.5 811.6h4.3V870.1h-4.3zM293.5 870.1h4.3V910.7h-4.3zM300.6 852.4h4.3V870.1h-4.3zM307.6 870.1h4.3V937.7h-4.3zM314.6 870.1h4.3V913.4h-4.3zM321.6 870.1h4.3V925.9h-4.3zM328.6 870.1h4.3V875.3h-4.3zM335.6 854.6h4.3V870.1h-4.3zM342.6 870.1h4.3V918.1h-4.3zM349.6 870.1h4.3V882.0h-4.3zM356.7 811.6h4.3V870.1h-4.3zM363.7 840.3h4.3V870.1h-4.3zM370.7 870.1h4.3V891.6h-4.3zM377.7 870.1h4.3V889.1h-4.3zM384.7 837.8h4.3V870.1h-4.3zM391.7 870.1h4.3V896.6h-4.3zM398.7 866.8h4.3V870.1h-4.3zM405.7 870.1h4.3V959.5h-4.3zM412.8 808.8h4.3V870.1h-4.3zM419.8 870.1h4.3V875.3h-4.3zM426.8 870.1h4.3V913.2h-4.3zM433.8 870.1h4.3V957.3h-4.3zM440.8 789.2h4.3V870.1h-4.3zM447.8 870.1h4.3V925.9h-4.3zM454.8 823.5h4.3V870.1h-4.3zM461.8 870.1h4.3V884.2h-4.3zM468.9 870.1h4.3V889.1h-4.3zM475.9 847.7h4.3V870.1h-4.3zM482.9 870.1h4.3V871.5h-4.3zM489.9 870.1h4.3V930.8h-4.3zM496.9 870.1h4.3V904.3h-4.3zM503.9 797.0h4.3V870.1h-4.3zM510.9 870.1h4.3V910.7h-4.3zM517.9 845.5h4.3V870.1h-4.3zM525.0 866.8h4.3V870.1h-4.3zM532.0 811.9h4.3V870.1h-4.3zM539.0 870.1h4.3V968.9h-4.3zM546.0 870.1h4.3V1009.7h-4.3zM553.0 870.1h4.3V944.6h-4.3zM560.0 870.1h4.3V899.1h-4.3zM567.0 870.1h4.3V875.3h-4.3zM574.0 870.1h4.3V981.6h-4.3zM581.1 823.5h4.3V870.1h-4.3zM588.1 870.1h4.3V920.9h-4.3zM595.1 870.1h4.3V870.1h-4.3zM602.1 830.9h4.3V870.1h-4.3zM609.1 732.1h4.3V870.1h-4.3zM616.1 825.7h4.3V870.1h-4.3zM623.1 806.6h4.3V870.1h-4.3zM630.1 870.1h4.3V884.7h-4.3zM637.2 870.1h4.3V906.0h-4.3zM644.2 784.8h4.3V870.1h-4.3zM651.2 843.1h4.3V870.1h-4.3zM658.2 870.1h4.3V956.8h-4.3zM665.2 870.1h4.3V942.4h-4.3zM672.2 870.1h4.3V959.5h-4.3zM679.2 782.3h4.3V870.1h-4.3zM686.2 852.4h4.3V870.1h-4.3zM693.3 780.1h4.3V870.1h-4.3zM700.3 870.1h4.3V915.9h-4.3zM707.3 846.6h4.3V870.1h-4.3zM714.3 870.1h4.3V877.8h-4.3zM721.3 813.8h4.3V870.1h-4.3zM728.3 816.0h4.3V870.1h-4.3zM735.3 859.9h4.3V870.1h-4.3zM742.3 870.1h4.3V910.7h-4.3zM749.4 813.8h4.3V870.1h-4.3zM756.4 750.9h4.3V870.1h-4.3zM763.4 870.1h4.3V891.6h-4.3zM770.4 870.1h4.3V908.5h-4.3zM777.4 784.8h4.3V870.1h-4.3zM784.4 870.1h4.3V893.8h-4.3zM791.4 870.1h4.3V877.0h-4.3zM798.4 718.5h4.3V870.1h-4.3zM805.5 870.1h4.3V891.6h-4.3zM812.5 870.1h4.3V871.5h-4.3zM819.5 870.1h4.3V920.9h-4.3zM826.5 801.7h4.3V870.1h-4.3zM833.5 870.1h4.3V916.2h-4.3zM840.5 801.7h4.3V870.1h-4.3zM847.5 854.6h4.3V870.1h-4.3zM854.5 870.1h4.3V949.3h-4.3zM861.6 870.1h4.3V937.7h-4.3zM868.6 840.3h4.3V870.1h-4.3zM875.6 828.1h4.3V870.1h-4.3zM882.6 825.7h4.3V870.1h-4.3zM889.6 864.6h4.3V870.1h-4.3zM896.6 870.1h4.3V928.1h-4.3zM903.6 794.2h4.3V870.1h-4.3zM910.6 840.3h4.3V870.1h-4.3zM917.7 870.1h4.3V906.0h-4.3zM924.7 833.9h4.3V870.1h-4.3zM931.7 748.4h4.3V870.1h-4.3zM938.7 859.3h4.3V870.1h-4.3zM945.7 828.1h4.3V870.1h-4.3zM952.7 818.8h4.3V870.1h-4.3zM959.7 864.6h4.3V870.1h-4.3zM966.7 758.0h4.3V870.1h-4.3zM973.8 768.0h4.3V870.1h-4.3zM980.8 845.3h4.3V870.1h-4.3zM987.8 848.0h4.3V870.1h-4.3zM994.8 870.1h4.3V891.6h-4.3zM1001.8 864.6h4.3V870.1h-4.3zM1008.8 870.1h4.3V980.8h-4.3zM1015.8 775.2h4.3V870.1h-4.3zM1022.9 782.3h4.3V870.1h-4.3zM1029.9 831.5h4.3V870.1h-4.3zM1036.9 821.8h4.3V870.1h-4.3zM1043.9 718.5h4.3V870.1h-4.3zM1050.9 845.5h4.3V870.1h-4.3zM1057.9 823.5h4.3V870.1h-4.3zM1064.9 765.8h4.3V870.1h-4.3zM1071.9 801.7h4.3V870.1h-4.3zM1079.0 870.1h4.3V870.1h-4.3zM1086.0 857.4h4.3V870.1h-4.3zM1093.0 808.8h4.3V870.1h-4.3zM1100.0 852.4h4.3V870.1h-4.3zM1107.0 870.1h4.3V962.0h-4.3zM1114.0 870.1h4.3V879.2h-4.3zM1121.0 864.6h4.3V870.1h-4.3zM1128.0 870.1h4.3V910.7h-4.3zM1135.1 828.1h4.3V870.1h-4.3zM1142.1 777.4h4.3V870.1h-4.3zM1149.1 870.1h4.3V883.3h-4.3zM1156.1 870.1h4.3V998.2h-4.3zM1163.1 870.1h4.3V928.1h-4.3zM1170.1 870.1h4.3V923.1h-4.3zM1177.1 850.0h4.3V870.1h-4.3zM1184.1 870.1h4.3V928.1h-4.3zM1191.2 870.1h4.3V945.4h-4.3z"/>
<line x1="127.5" x2="1229.0" y1="870.1" y2="870.1" stroke="#000" stroke-width="2.8"/>
<polyline fill="none" stroke="#44546a" stroke-width="3.7" stroke-linejoin="round" stroke-linecap="round" points="162.5,905.0 169.5,895.9 176.5,895.3 183.5,878.0 190.5,877.3 197.5,866.4 204.5,893.7 211.5,879.0 218.6,875.2 225.6,869.2 232.6,872.7 239.6,874.8 246.6,886.3 253.6,891.2 260.6,886.9 267.6,877.6 274.7,882.2 281.7,884.6 288.7,892.7 295.7,895.5 302.7,895.1 309.7,890.5 316.7,888.9 323.7,896.7 330.8,885.7 337.8,884.3 344.8,879.2 351.8,876.5 358.8,866.7 365.8,869.1 372.8,870.4 379.8,875.0 386.9,866.9 393.9,874.0 400.9,882.1 407.9,889.4 414.9,878.3 421.9,888.1 428.9,879.9 435.9,881.9 443.0,874.1 450.0,878.4 457.0,878.0 464.0,879.9 471.0,874.0 478.0,874.9 485.0,873.2 492.0,875.7 499.1,873.7 506.1,865.1 513.1,878.6 520.1,894.1 527.1,895.6 534.1,895.0 541.1,903.7 548.1,911.6 555.2,909.2 562.2,915.2 569.2,921.7 576.2,906.3 583.2,875.3 590.2,862.1 597.2,851.9 604.2,852.9 611.3,844.5 618.3,840.2 625.3,831.6 632.3,841.2 639.3,853.6 646.3,878.8 653.3,874.0 660.3,879.1 667.4,867.5 674.4,868.6 681.4,875.5 688.4,879.3 695.4,863.4 702.4,849.4 709.4,838.3 716.4,852.6 723.5,848.3 730.5,845.0 737.5,842.3 744.5,849.2 751.5,838.9 758.5,847.8 765.5,854.6 772.5,838.2 779.6,836.1 786.6,842.5 793.6,861.4 800.6,851.4 807.6,852.3 814.6,854.1 821.6,849.8 828.6,857.8 835.7,882.8 842.7,877.1 849.7,872.3 856.7,861.7 863.7,868.7 870.7,870.0 877.7,869.2 884.7,867.6 891.8,862.8 898.8,851.2 905.8,841.0 912.8,844.5 919.8,844.8 926.8,839.7 933.8,832.6 940.8,828.6 947.9,820.6 954.9,813.8 961.9,815.4 968.9,831.3 975.9,831.9 982.9,848.8 989.9,844.0 996.9,834.9 1004.0,843.0 1011.0,849.0 1018.0,834.3 1025.0,834.0 1032.0,826.4 1039.0,815.5 1046.0,795.5 1053.1,806.1 1060.1,814.4 1067.1,811.9 1074.1,815.3 1081.1,843.0 1088.1,846.8 1095.1,851.3 1102.1,867.4 1109.2,870.4 1116.2,860.1 1123.2,863.0 1130.2,884.0 1137.2,892.4 1144.2,888.1 1151.2,884.8 1158.2,891.9 1165.3,895.7"/>
<line x1="127.5" x2="127.5" y1="719.0" y2="1010.2" stroke="#000" stroke-width="4.5"/>
<line x1="494.5" x2="494.5" y1="719.0" y2="1010.2" stroke="#000" stroke-width="4.5"/>
<line x1="859.3" x2="859.3" y1="719.0" y2="1010.2" stroke="#000" stroke-width="4.5"/>
<line x1="1225.2" x2="1225.2" y1="719.0" y2="1010.2" stroke="#000" stroke-width="4.5"/>
<text x="66.8" y="737.9" font-size="22" stroke="#000" stroke-width="0.6" textLength="40.6" lengthAdjust="spacingAndGlyphs">50%</text>
<text x="66.8" y="808.1" font-size="22" stroke="#000" stroke-width="0.6" textLength="40.6" lengthAdjust="spacingAndGlyphs">25%</text>
<text x="78.4" y="877.9" font-size="22" stroke="#000" stroke-width="0.6" textLength="29.0" lengthAdjust="spacingAndGlyphs">0%</text>
<text x="58.8" y="946.5" font-size="22" stroke="#000" stroke-width="0.6" textLength="48.6" lengthAdjust="spacingAndGlyphs">-25%</text>
<text x="58.8" y="1016.4" font-size="22" stroke="#000" stroke-width="0.6" textLength="48.6" lengthAdjust="spacingAndGlyphs">-50%</text>
<text transform="translate(66.0 863.3) rotate(-90)" font-size="23" stroke="#000" stroke-width="0.6" text-anchor="middle" textLength="146.5" lengthAdjust="spacingAndGlyphs">Excess Deaths</text>
<text x="140.8" y="737.2" font-size="29" font-weight="bold" stroke="#000" stroke-width="0.35" textLength="264" lengthAdjust="spacingAndGlyphs">Northern Territory</text>
</g>
<text x="307" y="1052" font-size="25" font-weight="bold" stroke="#000" stroke-width="0.35" text-anchor="middle" textLength="57" lengthAdjust="spacingAndGlyphs">2020</text>
<text x="675" y="1052" font-size="25" font-weight="bold" stroke="#000" stroke-width="0.35" text-anchor="middle" textLength="57" lengthAdjust="spacingAndGlyphs">2021</text>
<text x="1040.6" y="1052" font-size="25" font-weight="bold" stroke="#000" stroke-width="0.35" text-anchor="middle" textLength="57" lengthAdjust="spacingAndGlyphs">2022</text>
</g>
<use href="#content" filter="url(#soft)" opacity="0.4"/>
</svg>
</body></html>
